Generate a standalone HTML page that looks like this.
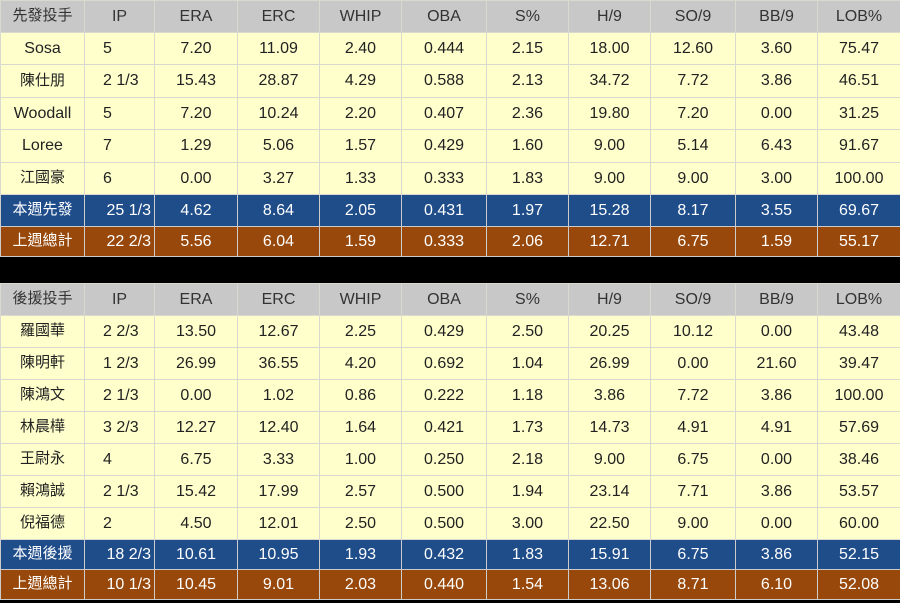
<!DOCTYPE html><html><head><meta charset="utf-8"><style>
body{margin:0;width:900px;height:603px;overflow:hidden;background:#000;font-family:"Liberation Sans","Noto Sans CJK TC",sans-serif;}
table{border-collapse:collapse;table-layout:fixed;width:900px;position:absolute;left:0}
td{border:1px solid #d9d9cf;text-align:center;font-size:16px;line-height:20px;vertical-align:middle;color:#222;padding:0;overflow:hidden;white-space:nowrap}
tr.h td{background:#c8c8c8;color:#333}
tr.r td{background:#ffffcc}
tr.b td{background:#1f4d8a;color:#fff;border-color:#ccc}
tr.o td{background:#97480a;color:#fff;border-color:#ccc}
td.ip{text-align:left;padding-left:18px}
tr.b td.ip,tr.o td.ip{text-align:right;padding:0 3px 0 0}
td.c{font-family:"Noto Sans CJK TC","Liberation Sans",sans-serif;font-size:15px;padding-bottom:3px}
</style></head><body>
<table style="top:0"><colgroup><col style="width:84px"><col style="width:70px"><col style="width:83px"><col style="width:82px"><col style="width:82px"><col style="width:85px"><col style="width:82px"><col style="width:82px"><col style="width:85px"><col style="width:82px"><col style="width:83px"></colgroup>
<tr class="h" style="height:32px"><td class="c">先發投手</td><td>IP</td><td>ERA</td><td>ERC</td><td>WHIP</td><td>OBA</td><td>S%</td><td>H/9</td><td>SO/9</td><td>BB/9</td><td>LOB%</td></tr>
<tr class="r" style="height:32px"><td>Sosa</td><td class="ip">5</td><td>7.20</td><td>11.09</td><td>2.40</td><td>0.444</td><td>2.15</td><td>18.00</td><td>12.60</td><td>3.60</td><td>75.47</td></tr>
<tr class="r" style="height:33px"><td class="c">陳仕朋</td><td class="ip">2 1/3</td><td>15.43</td><td>28.87</td><td>4.29</td><td>0.588</td><td>2.13</td><td>34.72</td><td>7.72</td><td>3.86</td><td>46.51</td></tr>
<tr class="r" style="height:32px"><td>Woodall</td><td class="ip">5</td><td>7.20</td><td>10.24</td><td>2.20</td><td>0.407</td><td>2.36</td><td>19.80</td><td>7.20</td><td>0.00</td><td>31.25</td></tr>
<tr class="r" style="height:33px"><td>Loree</td><td class="ip">7</td><td>1.29</td><td>5.06</td><td>1.57</td><td>0.429</td><td>1.60</td><td>9.00</td><td>5.14</td><td>6.43</td><td>91.67</td></tr>
<tr class="r" style="height:32px"><td class="c">江國豪</td><td class="ip">6</td><td>0.00</td><td>3.27</td><td>1.33</td><td>0.333</td><td>1.83</td><td>9.00</td><td>9.00</td><td>3.00</td><td>100.00</td></tr>
<tr class="b" style="height:32px"><td class="c">本週先發</td><td class="ip">25 1/3</td><td>4.62</td><td>8.64</td><td>2.05</td><td>0.431</td><td>1.97</td><td>15.28</td><td>8.17</td><td>3.55</td><td>69.67</td></tr>
<tr class="o" style="height:30px"><td class="c">上週總計</td><td class="ip">22 2/3</td><td>5.56</td><td>6.04</td><td>1.59</td><td>0.333</td><td>2.06</td><td>12.71</td><td>6.75</td><td>1.59</td><td>55.17</td></tr>
</table>
<table style="top:283px"><colgroup><col style="width:84px"><col style="width:70px"><col style="width:83px"><col style="width:82px"><col style="width:82px"><col style="width:85px"><col style="width:82px"><col style="width:82px"><col style="width:85px"><col style="width:82px"><col style="width:83px"></colgroup>
<tr class="h" style="height:32px"><td class="c">後援投手</td><td>IP</td><td>ERA</td><td>ERC</td><td>WHIP</td><td>OBA</td><td>S%</td><td>H/9</td><td>SO/9</td><td>BB/9</td><td>LOB%</td></tr>
<tr class="r" style="height:32px"><td class="c">羅國華</td><td class="ip">2 2/3</td><td>13.50</td><td>12.67</td><td>2.25</td><td>0.429</td><td>2.50</td><td>20.25</td><td>10.12</td><td>0.00</td><td>43.48</td></tr>
<tr class="r" style="height:32px"><td class="c">陳明軒</td><td class="ip">1 2/3</td><td>26.99</td><td>36.55</td><td>4.20</td><td>0.692</td><td>1.04</td><td>26.99</td><td>0.00</td><td>21.60</td><td>39.47</td></tr>
<tr class="r" style="height:32px"><td class="c">陳鴻文</td><td class="ip">2 1/3</td><td>0.00</td><td>1.02</td><td>0.86</td><td>0.222</td><td>1.18</td><td>3.86</td><td>7.72</td><td>3.86</td><td>100.00</td></tr>
<tr class="r" style="height:32px"><td class="c">林晨樺</td><td class="ip">3 2/3</td><td>12.27</td><td>12.40</td><td>1.64</td><td>0.421</td><td>1.73</td><td>14.73</td><td>4.91</td><td>4.91</td><td>57.69</td></tr>
<tr class="r" style="height:32px"><td class="c">王尉永</td><td class="ip">4</td><td>6.75</td><td>3.33</td><td>1.00</td><td>0.250</td><td>2.18</td><td>9.00</td><td>6.75</td><td>0.00</td><td>38.46</td></tr>
<tr class="r" style="height:32px"><td class="c">賴鴻誠</td><td class="ip">2 1/3</td><td>15.42</td><td>17.99</td><td>2.57</td><td>0.500</td><td>1.94</td><td>23.14</td><td>7.71</td><td>3.86</td><td>53.57</td></tr>
<tr class="r" style="height:32px"><td class="c">倪福德</td><td class="ip">2</td><td>4.50</td><td>12.01</td><td>2.50</td><td>0.500</td><td>3.00</td><td>22.50</td><td>9.00</td><td>0.00</td><td>60.00</td></tr>
<tr class="b" style="height:30px"><td class="c">本週後援</td><td class="ip">18 2/3</td><td>10.61</td><td>10.95</td><td>1.93</td><td>0.432</td><td>1.83</td><td>15.91</td><td>6.75</td><td>3.86</td><td>52.15</td></tr>
<tr class="o" style="height:30px"><td class="c">上週總計</td><td class="ip">10 1/3</td><td>10.45</td><td>9.01</td><td>2.03</td><td>0.440</td><td>1.54</td><td>13.06</td><td>8.71</td><td>6.10</td><td>52.08</td></tr>
</table>
</body></html>
